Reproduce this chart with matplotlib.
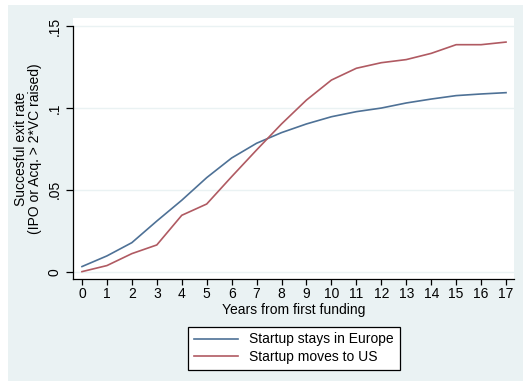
import matplotlib
matplotlib.use('Agg')

import matplotlib.pyplot as plt
import numpy as np

plt.rcParams['font.family'] = ['Liberation Sans', 'DejaVu Sans']

# exit rates by year since first funding
years = np.arange(0, 18)
europe = [0.0031, 0.0096, 0.0177, 0.0309, 0.0436, 0.0574, 0.0694, 0.0784, 0.0849,
          0.0902, 0.0946, 0.0977, 0.0999, 0.1030, 0.1054, 0.1075, 0.1085, 0.1093]
us = [0.0, 0.0037, 0.0110, 0.0163, 0.0344, 0.0413, 0.0580, 0.0743, 0.0902,
      0.1048, 0.1170, 0.1242, 0.1276, 0.1295, 0.1333, 0.1386, 0.1386, 0.1402]

y_ticks = [0, 0.05, 0.1, 0.15]
y_ticklabels = ['0', '.05', '.1', '.15']

bg = '#EAF2F3'
fig = plt.figure(figsize=(5.23, 3.81), dpi=100)
fig.patch.set_facecolor('white')
# graph region (light blue) with a thin white margin top and left
fig.add_artist(plt.Rectangle((8 / 523, 0), 1, 1 - 5 / 381, transform=fig.transFigure,
                             facecolor=bg, edgecolor='none', zorder=-10))

ax = fig.add_axes([73 / 523, 102 / 381, 441 / 523, 261 / 381])
ax.set_facecolor('white')

ax.plot(years, europe, color='#4E7196', lw=1.2, label='Startup stays in Europe')
ax.plot(years, us, color='#B05A62', lw=1.2, label='Startup moves to US')

ax.set_xlim(-0.36, 17.32)
ax.set_ylim(-0.0045, 0.1549)
ax.set_xticks(years)
ax.set_yticks(y_ticks)
ax.set_yticklabels(y_ticklabels, rotation=90, va='center')
ax.grid(axis='y', color=bg, lw=1.0)
ax.set_axisbelow(True)

for s in ['top', 'right']:
    ax.spines[s].set_visible(False)
for s in ['left', 'bottom']:
    ax.spines[s].set_linewidth(0.9)
ax.spines['left'].set_bounds(-0.0045, 0.15)

ax.tick_params(axis='y', length=5, width=0.9, labelsize=10, pad=3)
ax.tick_params(axis='x', length=4, width=0.9, labelsize=10, pad=2)

ax.set_xlabel('Years from first funding', fontsize=10, labelpad=1)
ax.set_ylabel('Succesful exit rate\n(IPO or Acq. > 2*VC raised)', fontsize=10,
              labelpad=4, linespacing=1.0)

leg = fig.legend(loc='upper center', bbox_to_anchor=(294 / 523, 1 - 320 / 381),
                 fontsize=10, handlelength=3.2, fancybox=False, framealpha=1,
                 edgecolor='black', borderpad=0.4, labelspacing=0.25)
leg.get_frame().set_linewidth(0.9)

fig.savefig('out.png', dpi=100, facecolor=fig.get_facecolor())
